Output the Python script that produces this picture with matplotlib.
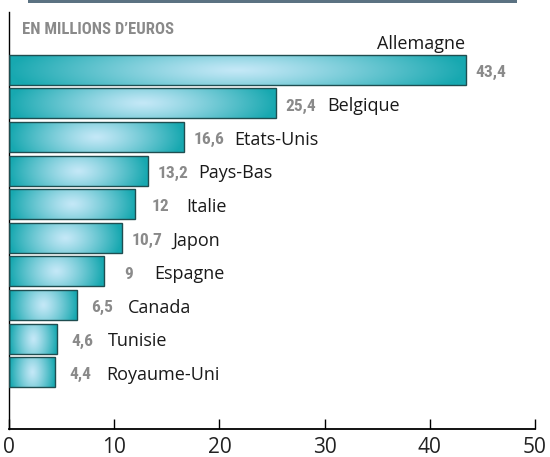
import numpy as np
import matplotlib
matplotlib.use('Agg')
import matplotlib.pyplot as plt
from matplotlib.patches import Rectangle
from matplotlib.colors import to_rgb

plt.rcParams['font.family'] = ['Open Sans', 'DejaVu Sans']

countries = ['Allemagne', 'Belgique', 'Etats-Unis', 'Pays-Bas', 'Italie',
             'Japon', 'Espagne', 'Canada', 'Tunisie', 'Royaume-Uni']
values = [43.4, 25.4, 16.6, 13.2, 12, 10.7, 9, 6.5, 4.6, 4.4]
value_labels = ['43,4', '25,4', '16,6', '13,2', '12', '10,7', '9', '6,5', '4,6', '4,4']
xticks = [0, 10, 20, 30, 40, 50]
title = 'EN MILLIONS D\u2019EUROS'

narrow = ['Roboto Condensed', 'Liberation Sans Narrow', 'DejaVu Sans']
teal = np.array(to_rgb('#17a8b0'))
light = np.array(to_rgb('#c4e8f7'))

fig = plt.figure(figsize=(5.5, 4.57), dpi=100)
ax = fig.add_axes([9/550, 28/457, 526/550, 417/457])

y = np.arange(len(countries))
bars = ax.barh(y, values, height=0.89, facecolor='none',
               edgecolor='#1f4d50', linewidth=1, zorder=3)

# gradient fill, light in the middle of each bar
for b in bars:
    x0, y0 = b.get_x(), b.get_y()
    w, h = b.get_width(), b.get_height()
    nx = max(int(w*10.5), 2); ny = 30
    U, V = np.meshgrid(np.linspace(-1, 1, nx), np.linspace(-1, 1, ny))
    d = np.clip(np.sqrt(U**2 + 0.15*V**2), 0, 1)
    t = (d**1.2)[..., None]
    img = light*(1-t) + teal*t
    im = ax.imshow(img, extent=(x0, x0+w, y0+h, y0), aspect='auto',
                   interpolation='bilinear', zorder=2)
    im.set_clip_path(b)

for i, (v, lab, name) in enumerate(zip(values, value_labels, countries)):
    ax.annotate(lab, (v, i), xytext=(18, -2), textcoords='offset points',
                ha='center', va='center', fontsize=12.5, fontweight='bold',
                family=narrow, fontstretch='condensed', color='#8a8a8a')
    if i == 0:
        ax.annotate(name, (v, i - 0.445), xytext=(0, 4), textcoords='offset points',
                    ha='right', va='baseline', fontsize=13, color='#1a1a1a')
    else:
        ax.annotate(name, (v, i), xytext=(36.5, -2), textcoords='offset points',
                    ha='left', va='center', fontsize=13, color='#1a1a1a')

ax.set_xlim(0, 50)
ax.set_ylim(10.69, -1.72)
ax.set_xticks(xticks)
ax.tick_params(axis='x', direction='in', length=7, width=1, labelsize=15,
               pad=6, labelcolor='#222222')
ax.tick_params(axis='y', left=False, labelleft=False)
for s in ['top', 'right']:
    ax.spines[s].set_visible(False)
ax.spines['left'].set_linewidth(1)
ax.spines['bottom'].set_linewidth(1.3)

fig.text(22/550, 1 - 30/457, title, va='center', ha='left', fontsize=12,
         fontweight='bold', family=narrow, fontstretch='condensed', color='#8a8a8a')
fig.add_artist(Rectangle((28/550, 1 - 3/457), 489/550, 3/457,
                         transform=fig.transFigure, color='#5b7282', lw=0))

fig.savefig('out.png', dpi=100)
